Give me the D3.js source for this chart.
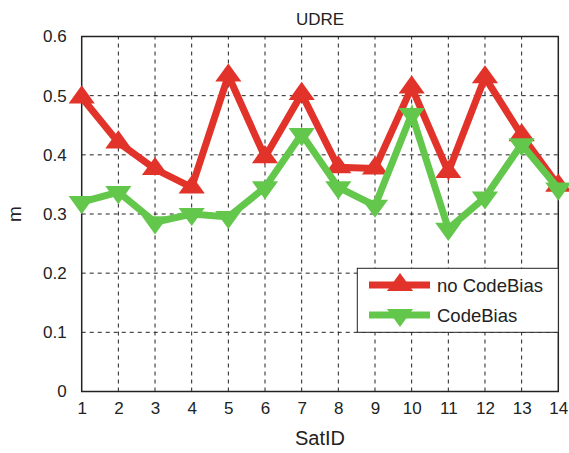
<!DOCTYPE html>
<html>
<head>
<meta charset="utf-8">
<script src="https://cdn.jsdelivr.net/npm/d3@7"></script>
<style>
  body { margin: 0; background: #fff; }
  text { font-family: "Liberation Sans", Arial, sans-serif; fill: #222; }
</style>
</head>
<body>
<div id="chart"></div>
<script>
// values
const satIDs = [1, 2, 3, 4, 5, 6, 7, 8, 9, 10, 11, 12, 13, 14]
const noCodeBias = [0.497, 0.421, 0.376, 0.345, 0.534, 0.396, 0.503, 0.379, 0.377, 0.514, 0.371, 0.531, 0.433, 0.348]
const codeBias = [0.320, 0.337, 0.286, 0.300, 0.295, 0.345, 0.435, 0.345, 0.314, 0.469, 0.275, 0.328, 0.418, 0.343]
const yTicks = [0, 0.1, 0.2, 0.3, 0.4, 0.5, 0.6]
const seriesNames = ['no CodeBias', 'CodeBias']

const w = 569, h = 453
const margin = {left: 81.7, right: 10.7, top: 36.5, bottom: 61.5}
const red = '#e2332a', green = '#63c74c'

const svg = d3.select('#chart').append('svg')
	.attr('width', w)
	.attr('height', h)

const x = d3.scaleLinear().domain([1, 14]).range([margin.left, w - margin.right])
const y = d3.scaleLinear().domain([0, 0.6]).range([h - margin.bottom, margin.top])

// grid
svg.append('g').selectAll('line')
	.data(satIDs.slice(1, -1))
	.enter().append('line')
	.attr('x1', d => x(d)).attr('x2', d => x(d))
	.attr('y1', y(0)).attr('y2', y(0.6))
	.attr('stroke', '#222').attr('stroke-width', 1).attr('stroke-dasharray', '4,4')

svg.append('g').selectAll('line')
	.data(yTicks.slice(1, -1))
	.enter().append('line')
	.attr('x1', x(1)).attr('x2', x(14))
	.attr('y1', d => y(d)).attr('y2', d => y(d))
	.attr('stroke', '#222').attr('stroke-width', 1).attr('stroke-dasharray', '4,4')

// axes
const xAxis = svg.append('g')
	.attr('transform', `translate(0,${y(0)})`)
	.call(d3.axisBottom(x).tickValues(satIDs).tickFormat(d3.format('d')).tickSize(0).tickPadding(10))
const yAxis = svg.append('g')
	.attr('transform', `translate(${x(1)},0)`)
	.call(d3.axisLeft(y).tickValues(yTicks).tickFormat(d => d === 0 ? '0' : d3.format('.1f')(d)).tickSize(0).tickPadding(15))
;[xAxis, yAxis].forEach(a => {
	a.select('.domain').remove()
	a.selectAll('text').style('font-size', '17px').attr('fill', '#222')
		.style('font-family', '"Liberation Sans", Arial, sans-serif')
})

// box
svg.append('rect')
	.attr('x', x(1)).attr('y', y(0.6))
	.attr('width', x(14) - x(1)).attr('height', y(0) - y(0.6))
	.attr('fill', 'none').attr('stroke', '#222').attr('stroke-width', 1.5)

const line = d3.line().x((d, i) => x(satIDs[i])).y(d => y(d))

const triUp = d3.symbol().type(d3.symbolTriangle).size(190)

function drawSeries(vals, color, down) {
	svg.append('path')
		.datum(vals)
		.attr('d', line)
		.attr('fill', 'none').attr('stroke', color)
		.attr('stroke-width', 7).attr('stroke-linejoin', 'miter')
	svg.append('g').selectAll('path')
		.data(vals)
		.enter().append('path')
		.attr('d', triUp)
		.attr('transform', (d, i) => `translate(${x(satIDs[i])},${y(d)}) scale(1.25,1)${down ? ' rotate(180)' : ''}`)
		.attr('fill', color)
}

drawSeries(noCodeBias, red, false)
drawSeries(codeBias, green, true)

// title and labels
svg.append('text').attr('x', (x(1) + x(14)) / 2).attr('y', 25)
	.attr('text-anchor', 'middle').style('font-size', '17px').text('UDRE')
svg.append('text').attr('x', (x(1) + x(14)) / 2).attr('y', 445)
	.attr('text-anchor', 'middle').style('font-size', '20px').text('SatID')
svg.append('text').attr('transform', `translate(21,${(y(0) + y(0.6)) / 2}) rotate(-90)`)
	.attr('text-anchor', 'middle').style('font-size', '19px').text('m')

// legend
const lg = svg.append('g')
lg.append('rect')
	.attr('x', 357.3).attr('y', 268.3).attr('width', 201).attr('height', 64)
	.attr('fill', '#fff').attr('stroke', '#222').attr('stroke-width', 1)
;[[red, false], [green, true]].forEach((s, i) => {
	const cy = 285 + i * 30
	lg.append('line').attr('x1', 369).attr('x2', 430).attr('y1', cy).attr('y2', cy)
		.attr('stroke', s[0]).attr('stroke-width', 7)
	lg.append('path').attr('d', triUp)
		.attr('transform', `translate(400,${cy}) scale(1.25,1)${s[1] ? ' rotate(180)' : ''}`)
		.attr('fill', s[0])
	lg.append('text').attr('x', 437).attr('y', cy + 6.5).style('font-size', '18.5px').text(seriesNames[i])
})
</script>
</body>
</html>
